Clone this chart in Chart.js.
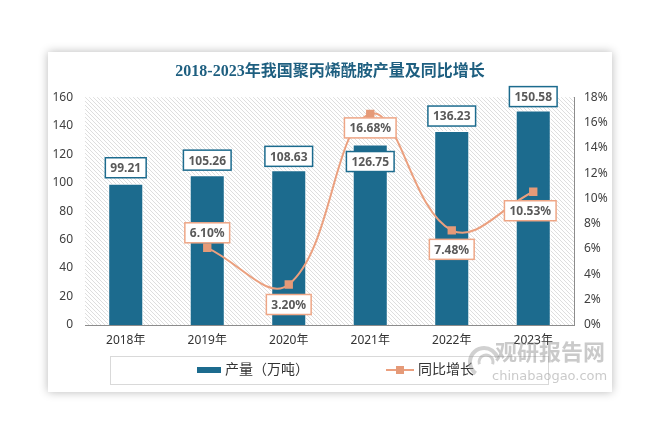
<!DOCTYPE html>
<html>
<head>
<meta charset="utf-8">
<script src="https://cdn.jsdelivr.net/npm/chart.js@4.4.0/dist/chart.umd.min.js"></script>
<style>
  html, body { margin: 0; padding: 0; background: #fff; }
  #wrap { position: relative; width: 666px; height: 441px; }
  #card { position: absolute; left: 48px; top: 52px; width: 564px; height: 340px;
          background: #fff; box-shadow: 0 0 9px rgba(0,0,0,0.28); }
  #myChart { position: absolute; left: 0; top: 0; }
</style>
</head>
<body>
<div id="wrap">
  <div id="card"></div>
  <canvas id="myChart" width="666" height="441"></canvas>
</div>
<script>
// data
const years = ["2018年", "2019年", "2020年", "2021年", "2022年", "2023年"];
const output = [99.21, 105.26, 108.63, 126.75, 136.23, 150.58];
const growth = [null, 6.10, 3.20, 16.68, 7.48, 10.53];

const barColor = "#1c6b8e";
const lineColor = "#eba07f";
const markColor = "#e59a78";
const FONT = "'Noto Sans', 'Noto Sans CJK SC', sans-serif";

// hatched background of the plot area
function hatch() {
    const c = document.createElement("canvas");
    c.width = 4; c.height = 4;
    const g = c.getContext("2d");
    g.strokeStyle = "#dedede";
    g.lineWidth = 1;
    g.beginPath();
    g.moveTo(0, 0); g.lineTo(4, 4);
    g.moveTo(-1, 3); g.lineTo(1, 5);
    g.moveTo(3, -1); g.lineTo(5, 1);
    g.stroke();
    return c;
}

const bgPlugin = {
    id: "hatchBg",
    beforeDatasetsDraw(chart) {
        const { ctx, chartArea: a } = chart;
        ctx.save();
        ctx.fillStyle = ctx.createPattern(hatch(), "repeat");
        ctx.fillRect(a.left, a.top, a.right - a.left, a.bottom - a.top);
        ctx.restore();
    }
};

function box(ctx, text, cx, cy, border) {
    ctx.font = "bold 12px " + FONT;
    const w = ctx.measureText(text).width + 10;
    const h = 20;
    ctx.fillStyle = "#fff";
    ctx.fillRect(cx - w / 2, cy - h / 2, w, h);
    ctx.strokeStyle = border;
    ctx.lineWidth = 1.5;
    ctx.strokeRect(cx - w / 2, cy - h / 2, w, h);
    ctx.fillStyle = "#595959";
    ctx.textAlign = "center";
    ctx.textBaseline = "middle";
    ctx.fillText(text, cx, cy + 1);
}

const labelPlugin = {
    id: "boxLabels",
    afterDatasetsDraw(chart, args, opts) {
        const ctx = chart.ctx;
        ctx.save();
        chart.getDatasetMeta(0).data.forEach((el, i) => {
            box(ctx, output[i].toFixed(2), el.x, el.y + opts.barDy[i], barColor);
        });
        chart.getDatasetMeta(1).data.forEach((el, i) => {
            if (growth[i] === null) return;
            box(ctx, growth[i].toFixed(2) + "%", el.x + opts.lineDx[i], el.y + opts.lineDy[i], "#eea686");
        });
        ctx.restore();
    }
};

const legendPlugin = {
    id: "boxLegend",
    afterDraw(chart) {
        const ctx = chart.ctx;
        const ds = chart.data.datasets;
        ctx.save();
        ctx.strokeStyle = "#d9d9d9";
        ctx.lineWidth = 1;
        ctx.strokeRect(110.5, 356.5, 438, 28);
        ctx.font = "14px " + FONT;
        ctx.textBaseline = "middle";
        ctx.textAlign = "left";
        ctx.fillStyle = barColor;
        ctx.fillRect(197, 367, 24, 6);
        ctx.fillStyle = "#333";
        ctx.fillText(ds[0].label, 225, 370);
        ctx.strokeStyle = lineColor;
        ctx.lineWidth = 2;
        ctx.beginPath(); ctx.moveTo(386, 370); ctx.lineTo(414, 370); ctx.stroke();
        ctx.fillStyle = markColor;
        ctx.fillRect(396, 366, 8, 8);
        ctx.fillStyle = "#333";
        ctx.fillText(ds[1].label, 418, 370);

        // watermark
        ctx.globalAlpha = 0.45;
        ctx.strokeStyle = "#9a9a9a";
        ctx.lineWidth = 4;
        ctx.beginPath(); ctx.arc(484, 362, 14, Math.PI * 0.7, Math.PI * 1.9); ctx.stroke();
        ctx.lineWidth = 3;
        ctx.beginPath(); ctx.arc(486, 362, 7, Math.PI * 0.9, Math.PI * 2.1); ctx.stroke();
        ctx.fillStyle = "#8a8a8a";
        ctx.font = "bold 22px 'Noto Sans CJK SC', sans-serif";
        ctx.fillText("观研报告网", 495, 352);
        ctx.font = "13px 'DejaVu Sans', sans-serif";
        ctx.fillText("chinabaogao.com", 492, 377);
        ctx.restore();
    }
};

const ctx = document.getElementById("myChart").getContext("2d");

const myChart = new Chart(ctx, {
    data: {
        labels: years,
        datasets: [{
            type: "bar",
            label: "产量（万吨）",
            data: output,
            yAxisID: "y",
            backgroundColor: barColor,
            borderColor: "#fff",
            borderWidth: 1,
            barPercentage: 0.43,
            categoryPercentage: 1,
            order: 1
        }, {
            type: "line",
            label: "同比增长",
            data: growth,
            yAxisID: "y1",
            borderColor: lineColor,
            borderWidth: 2,
            tension: 0.4,
            pointStyle: "rect",
            pointRadius: 4.5,
            pointBackgroundColor: markColor,
            pointBorderColor: markColor,
            order: 0
        }]
    },
    options: {
        responsive: false,
        animation: false,
        layout: { padding: { left: 48, right: 54, top: 52, bottom: 86 } },
        scales: {
            x: {
                grid: { display: false, drawTicks: false },
                border: { color: "#8c8c8c" },
                ticks: { color: "#333", font: { size: 12, family: FONT }, padding: 8 },
                afterFit(s) { s.height = 30; }
            },
            y: {
                position: "left",
                min: 0, max: 160,
                grid: { display: false, drawTicks: false },
                border: { display: false },
                ticks: { stepSize: 20, color: "#404040", font: { size: 12, family: FONT }, padding: 12 },
                afterFit(s) { s.width = 37; }
            },
            y1: {
                position: "right",
                min: 0, max: 18,
                grid: { display: false, drawOnChartArea: false, tickLength: 4, color: "#8c8c8c" },
                border: { color: "#8c8c8c" },
                ticks: { stepSize: 2, color: "#404040", font: { size: 12, family: FONT }, padding: 6,
                         callback: v => v + "%" },
                afterFit(s) { s.width = 38; }
            }
        },
        plugins: {
            legend: { display: false },
            tooltip: { enabled: false },
            title: {
                display: true,
                text: "2018-2023年我国聚丙烯酰胺产量及同比增长",
                color: "#1e5f80",
                font: { size: 16, weight: "bold", family: "'Liberation Serif', 'Noto Sans CJK SC', serif" },
                padding: { top: 10, bottom: 16 }
            },
            boxLabels: {
                barDy: [-16, -15, -14, 17, -15, -14],
                lineDx: [0, 0, 0, 0, 0, -3],
                lineDy: [0, -15, 20, 14, 19, 19]
            }
        }
    },
    plugins: [bgPlugin, labelPlugin, legendPlugin]
});
</script>
</body>
</html>
